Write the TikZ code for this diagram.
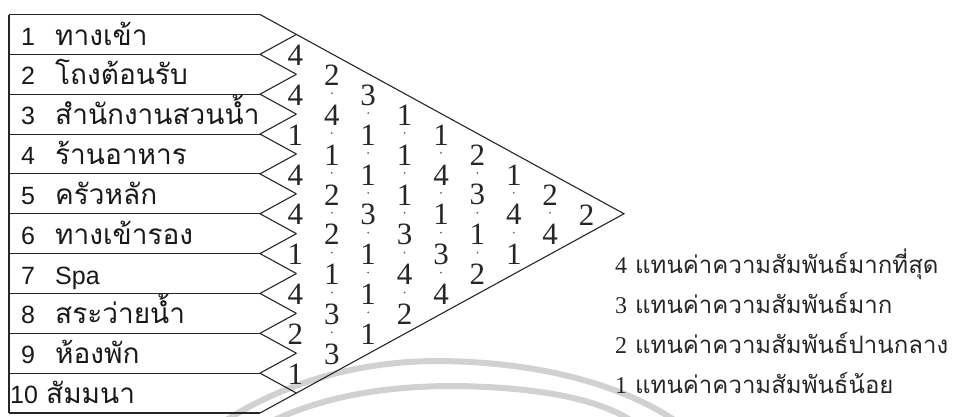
\documentclass[tikz,border=0pt]{standalone}
\usepackage{fontspec}
\setmainfont{Liberation Serif}
\newfontfamily\thai[Script=Thai]{Loma}
\newfontfamily\lsans{Liberation Sans}
\begin{document}
\begin{tikzpicture}[x=1pt,y=-1pt,
  frame/.style={draw=black!85, line width=1.1pt, line join=miter},
  lblnum/.style={anchor=base west, inner sep=0pt, font=\lsans\fontsize{25}{25}\selectfont, text=black!90},
  lbltxt/.style={anchor=base west, inner sep=0pt, font=\thai\fontsize{28}{28}\selectfont, text=black!90},
  num/.style={inner sep=0pt, font=\fontsize{31}{31}\selectfont, text=black!85},
  dotm/.style={circle, fill=black!60, draw=none, inner sep=0pt, minimum size=2pt},
  legnum/.style={anchor=base west, inner sep=0pt, font=\fontsize{24}{24}\selectfont, text=black!85},
  legtxt/.style={anchor=base west, inner sep=0pt, font=\thai\fontsize{24}{24}\selectfont, text=black!85},
  arc/.style={draw=black!18, line width=6pt}]
\useasboundingbox (0,0) rectangle (964,416);
\def\yz{14.5}
\def\hh{39.85}
\def\xl{9}
\def\xr{260}
\def\dx{36.4}
% faint arcs
\draw[arc] (220,424) .. controls (300,372) and (380,361) .. (440,361) .. controls (540,362) and (625,385) .. (680,424);
\draw[arc] (266,424) .. controls (330,392) and (400,386) .. (455,386) .. controls (530,387) and (600,397) .. (636,424);
% grid coordinates
\foreach \k in {0,...,10}{
  \coordinate (L\k) at (\xl, {\yz+\k*\hh});
  \coordinate (R\k) at (\xr, {\yz+\k*\hh});
}
\coordinate (tip) at ({\xr+10*\dx}, {\yz+5*\hh});
% box
\draw[frame] (L0) -- (L10);
\foreach \k in {0,...,10}{ \draw[frame] (L\k) -- (R\k); }
\draw[frame] (R0) -- (tip) -- (R10);
\foreach \k in {1,...,9}{
  \coordinate (A\k) at ({\xr+\dx}, {\yz+(\k-0.5)*\hh});
  \coordinate (B\k) at ({\xr+\dx}, {\yz+(\k+0.5)*\hh});
  \draw[frame] (A\k) -- (R\k) -- (B\k);
}
% labels
\foreach \k/\t in {1/ทางเข้า, 2/โถงต้อนรับ, 3/สำนักงานสวนน้ำ, 4/ร้านอาหาร, 5/ครัวหลัก, 6/ทางเข้ารอง, 8/สระว่ายน้ำ, 9/ห้องพัก}{
  \node[lblnum] (ln\k) at (21, {\yz+(\k-1)*\hh+30.5}) {\k};
  \node[lbltxt] (lt\k) at (55, {\yz+(\k-1)*\hh+30.5}) {\t};
}
\node[lblnum] (ln7) at (21, {\yz+6*\hh+30.5}) {7};
\node[lblnum] (lt7) at (55, {\yz+6*\hh+30.5}) {Spa};
\node[lblnum] (ln10) at (10, {\yz+9*\hh+30.5}) {10};
\node[lbltxt] (lt10) at (46, {\yz+9*\hh+30.5}) {สัมมนา};
% numbers
\foreach \c/\vals in {1/{4,4,1,4,4,1,4,2,1}, 2/{2,4,1,2,2,1,3,3}, 3/{3,1,1,3,1,1,1}, 4/{1,1,1,3,4,2}, 5/{1,4,1,3,4}, 6/{2,3,1,2}, 7/{1,4,1}, 8/{2,4}, 9/{2}}{
  \foreach \v [count=\i] in \vals {
    \node[num] (n\c-\i) at ({\xr+\c*\dx-1}, {\yz+(\i+\c/2-0.5)*\hh+1}) {\v};
  }
}
% dots between numbers
\foreach \c/\m in {2/7, 3/6, 4/5, 5/4, 6/3, 7/2, 8/1}{
  \foreach \i in {1,...,\m}{
    \node[dotm] (d\c-\i) at ({\xr+\c*\dx-1}, {\yz+(\i+\c/2)*\hh-1}) {};
  }
}
% legend
\foreach \k/\v/\t in {0/4/แทนค่าความสัมพันธ์มากที่สุด, 1/3/แทนค่าความสัมพันธ์มาก, 2/2/แทนค่าความสัมพันธ์ปานกลาง, 3/1/แทนค่าความสัมพันธ์น้อย}{
  \node[legnum] (gn\v) at (615, {273+40*\k}) {\v};
  \node[legtxt] (gt\v) at (635, {273+40*\k}) {\t};
}
\end{tikzpicture}
\end{document}
